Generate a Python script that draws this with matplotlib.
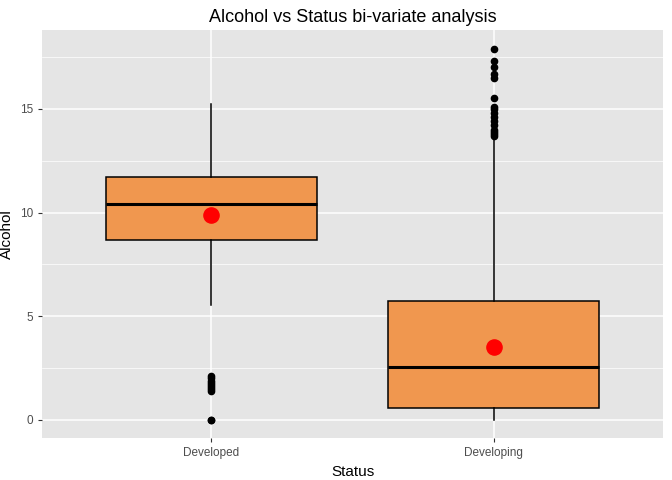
import matplotlib
matplotlib.use("Agg")
import matplotlib.pyplot as plt

categories = ["Developed", "Developing"]
whislo = [5.55, 0.01]
q1 = [8.68, 0.58]
med = [10.42, 2.56]
q3 = [11.72, 5.74]
whishi = [15.24, 13.75]
means = [9.89, 3.52]
outliers = [
    [0.01, 0.02, 1.4, 1.5, 1.6, 1.7, 1.8, 1.9, 2.0, 2.1],
    [13.7, 13.8, 13.9, 14.0, 14.2, 14.4, 14.6, 14.8, 15.0, 15.1, 15.5,
     16.5, 16.7, 17.0, 17.3, 17.9],
]

plt.rcParams['font.family'] = ['Liberation Sans', 'DejaVu Sans']
fig = plt.figure(figsize=(6.72, 4.8), dpi=100)
ax = fig.add_axes([42/672, 42/480, 621/672, 408/480])
ax.set_facecolor("#e5e5e5")

stats = []
for i, c in enumerate(categories):
    stats.append(dict(label=c, whislo=whislo[i], q1=q1[i], med=med[i],
                      q3=q3[i], whishi=whishi[i], fliers=outliers[i]))
pos = [1, 2]
ax.bxp(stats, positions=pos, widths=0.75, patch_artist=True, showcaps=False,
       boxprops=dict(facecolor="#f0974f", edgecolor="black", linewidth=1.1),
       medianprops=dict(color="black", linewidth=2.2),
       whiskerprops=dict(color="black", linewidth=1.1),
       flierprops=dict(marker="o", markerfacecolor="black", markeredgecolor="black",
                       markersize=4.5))
ax.scatter(pos, means, s=120, color="red", zorder=5)

ax.set_xlim(0.4, 2.6)
ax.set_ylim(-0.87, 18.8)
ax.set_yticks([0, 5, 10, 15])
ax.set_yticks([2.5, 7.5, 12.5, 17.5], minor=True)
ax.set_xticks(pos)
ax.set_xticklabels(categories)
ax.grid(True, which="major", color="white", linewidth=1.1)
ax.grid(True, which="minor", axis="y", color="white", linewidth=0.5)
ax.set_axisbelow(True)
for s in ax.spines.values():
    s.set_visible(False)
ax.tick_params(which="both", length=3, color="#333333", labelsize=8.5, labelcolor="#4d4d4d")
ax.tick_params(which="minor", length=0)
ax.set_xlabel("Status", fontsize=11)
ax.set_ylabel("Alcohol", fontsize=11)
ax.set_title("Alcohol vs Status bi-variate analysis", fontsize=13)
fig.savefig("out.png", dpi=100)
